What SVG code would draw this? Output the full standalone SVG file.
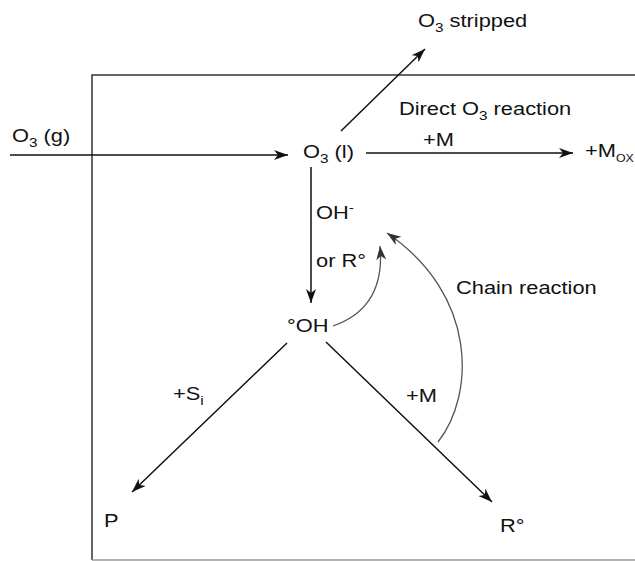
<svg xmlns="http://www.w3.org/2000/svg" width="635" height="561" viewBox="0 0 635 561">
<style>
text{font-family:"Liberation Sans",Arial,sans-serif;font-size:18.5px;fill:#111}
.sub{font-size:13px}
.subs{font-size:10.5px}
.ln{stroke:#111;stroke-width:1.5;fill:none}
.cv{stroke:#555;stroke-width:1.3;fill:none}
.box{stroke:#333;stroke-width:1.5;fill:none}
</style>
<defs>
<marker id="ah" markerUnits="userSpaceOnUse" markerWidth="16" markerHeight="12" refX="14" refY="5" orient="auto">
<path d="M0,0 L14,5 L0,10 L4,5 z" fill="#111"/>
</marker>
<marker id="ahg" markerUnits="userSpaceOnUse" markerWidth="16" markerHeight="12" refX="14" refY="5" orient="auto">
<path d="M0,0 L14,5 L0,10 L4,5 z" fill="#333"/>
</marker>
</defs>
<g id="reactor">
<path class="box" d="M635,75 L92,75 L92,560"/>
<path d="M92,560 L635,560" stroke="#999" stroke-width="1.5"/>
</g>
<g id="connectors">
<path class="ln" d="M10,155 L288,155" marker-end="url(#ah)"/>
<path class="ln" d="M366,153 L573,153" marker-end="url(#ah)"/>
<path class="ln" d="M341,131 L425,49" marker-end="url(#ah)"/>
<path class="ln" d="M311,167 L311,303" marker-end="url(#ah)"/>
<path class="ln" d="M287,343 L132,492" marker-end="url(#ah)"/>
<path class="ln" d="M326,342 L492,502" marker-end="url(#ah)"/>
<path class="cv" d="M333,326 C365,315 384,290 380,246" marker-end="url(#ahg)"/>
<path class="cv" d="M438,442 C475,395 478,295 387,233" marker-end="url(#ahg)"/>
</g>
<g id="o3g"><text transform="translate(12,142) scale(1.18,1)">O<tspan class="sub" dy="5">3</tspan><tspan dy="-5"> (g)</tspan></text></g>
<g id="o3stripped"><text transform="translate(418,27) scale(1.18,1)">O<tspan class="sub" dy="5">3</tspan><tspan dy="-5"> stripped</tspan></text></g>
<g id="direct"><text transform="translate(399,115) scale(1.18,1)">Direct O<tspan class="sub" dy="5">3</tspan><tspan dy="-5"> reaction</tspan></text></g>
<g id="o3l"><text transform="translate(303,158) scale(1.18,1)">O<tspan class="sub" dy="5">3</tspan><tspan dy="-5"> (l)</tspan></text></g>
<g id="plusM1"><text transform="translate(423,146) scale(1.18,1)">+M</text></g>
<g id="mox"><text transform="translate(585,157) scale(1.18,1)">+M<tspan class="subs" dy="5">OX</tspan></text></g>
<g id="ohminus"><text transform="translate(316,219) scale(1.18,1)">OH<tspan class="sub" dy="-7">-</tspan></text></g>
<g id="orR"><text transform="translate(316,267) scale(1.18,1)">or R°</text></g>
<g id="ohrad"><text transform="translate(287,332) scale(1.18,1)">°OH</text></g>
<g id="chain"><text transform="translate(456,294) scale(1.18,1)">Chain reaction</text></g>
<g id="plusSi"><text transform="translate(173,400) scale(1.18,1)">+S<tspan class="sub" dy="5">i</tspan></text></g>
<g id="plusM2"><text transform="translate(406,402) scale(1.18,1)">+M</text></g>
<g id="P"><text transform="translate(104,527) scale(1.18,1)">P</text></g>
<g id="Rrad"><text transform="translate(500,532) scale(1.18,1)">R°</text></g>
</svg>
